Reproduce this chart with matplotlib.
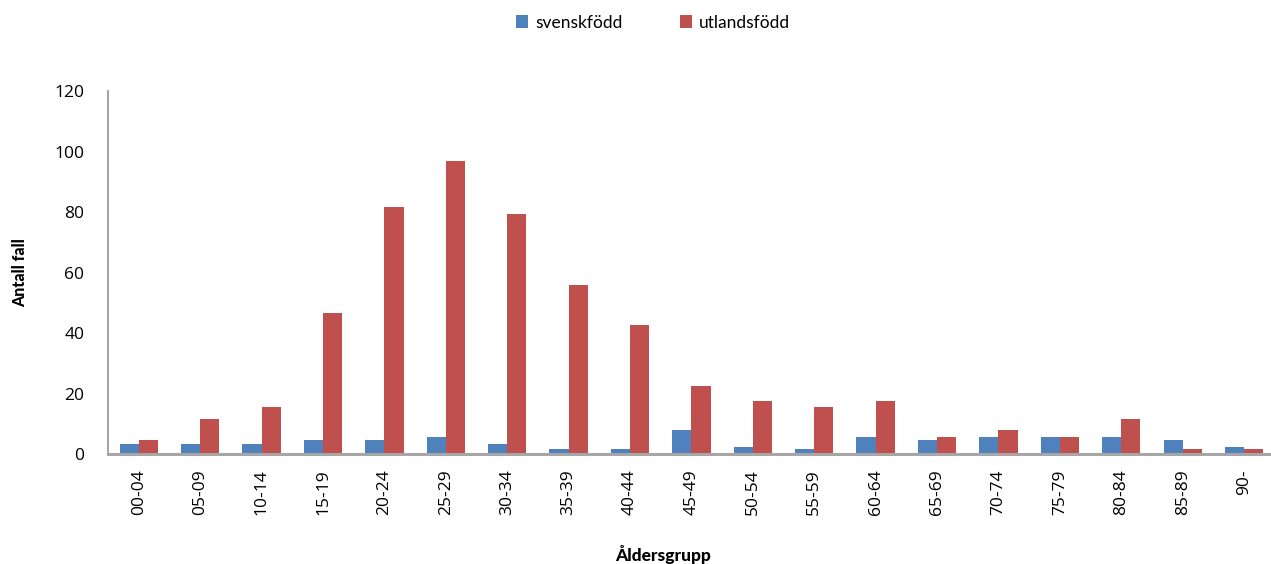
import matplotlib
matplotlib.use("Agg")
import matplotlib.pyplot as plt
import numpy as np

# Age groups and case counts by country of birth
age_groups = ["00-04", "05-09", "10-14", "15-19", "20-24", "25-29", "30-34",
              "35-39", "40-44", "45-49", "50-54", "55-59", "60-64", "65-69",
              "70-74", "75-79", "80-84", "85-89", "90-"]
svenskfodd = [3.3, 3.3, 3.3, 4.6, 4.6, 5.6, 3.3, 1.6, 1.6, 7.9, 2.2, 1.6,
              5.6, 4.6, 5.6, 5.6, 5.6, 4.6, 2.2]
utlandsfodd = [4.6, 11.5, 15.5, 46.5, 81.6, 96.8, 79.3, 55.8, 42.6, 22.4,
               17.5, 15.5, 17.5, 5.6, 7.9, 5.6, 11.5, 1.6, 1.6]
y_ticks = [0, 20, 40, 60, 80, 100, 120]

BLUE = "#4F81BD"
RED = "#C0504D"
AXIS_GREY = "#A6A6A6"

fig = plt.figure(figsize=(12.71, 5.64), dpi=100)
ax = fig.add_axes([0.085, 0.195, 0.918, 0.6435])

x = np.arange(len(age_groups))
w = 0.3125
ax.bar(x - w / 2, svenskfodd, width=w, color=BLUE, label="svenskfödd")
ax.bar(x + w / 2, utlandsfodd, width=w, color=RED, label="utlandsfödd")

ax.set_xlim(-0.5, len(age_groups) - 0.5)
ax.set_ylim(0, 120)
ax.set_yticks(y_ticks)
ax.set_xticks(x)
ax.set_xticklabels(age_groups, rotation=90, family="Open Sans", fontsize=12.5)
for lbl in ax.get_yticklabels():
    lbl.set_family("Open Sans")
    lbl.set_fontsize(12.5)
ax.tick_params(axis="y", length=0, pad=17)
ax.tick_params(axis="x", length=0, pad=11)

for side in ("top", "right"):
    ax.spines[side].set_visible(False)
ax.spines["left"].set_color(AXIS_GREY)
ax.spines["left"].set_linewidth(1.5)
ax.spines["bottom"].set_color(AXIS_GREY)
ax.spines["bottom"].set_linewidth(2.2)

fig.text(0.016, 0.517, "Antall fall", rotation=90, ha="center", va="center",
         family="Lato", fontweight="black", fontsize=11.5)
fig.text(0.522, 0.016, "Åldersgrupp", ha="center", va="center",
         family="Lato", fontweight="black", fontsize=12.5)

leg = fig.legend(loc="center", bbox_to_anchor=(0.514, 0.96), ncol=2,
                 frameon=False, prop={"family": "Lato", "size": 12.5},
                 handlelength=0.7, handleheight=0.7, handletextpad=0.4,
                 columnspacing=3.3)

fig.savefig("out.png", dpi=100)
